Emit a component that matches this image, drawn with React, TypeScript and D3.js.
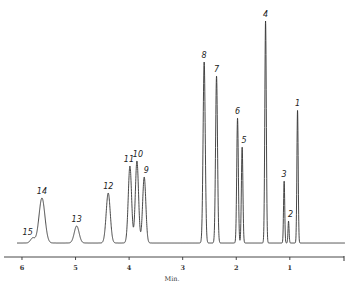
import React from "react";
import * as d3 from "d3";

const peakLabels = ["1", "2", "3", "4", "5", "6", "7", "8", "9", "10", "11", "12", "13", "14", "15"];
const peakTimes = [0.856, 1.024, 1.106, 1.453, 1.89, 1.976, 2.368, 2.599, 3.718, 3.854, 3.985, 4.39, 4.979, 5.627, 5.8];
const peakHeights = [133, 22, 62, 222, 96, 125, 167, 181, 66, 82, 77, 50, 17, 45, 5];
const peakSigmas = [0.012, 0.01, 0.011, 0.014, 0.014, 0.015, 0.018, 0.02, 0.03, 0.03, 0.031, 0.038, 0.045, 0.055, 0.04];
const tickValues = [6, 5, 4, 3, 2, 1];
const tickLabels = ["6", "5", "4", "3", "2", "1"];
const axisTitle = "Min.";

const W = 355, H = 285;

export default function App() {
  const x = d3.scaleLinear().domain([6.093, -0.03]).range([17, 345]);
  const y = d3.scaleLinear().domain([0, 230]).range([243, 13]);

  const samples = d3.range(6.093, -0.03, -0.002);
  const signal = (t: number) =>
    d3.sum(peakTimes, (pt, i) => peakHeights[i] * Math.exp(-((t - pt) ** 2) / (2 * peakSigmas[i] ** 2)));
  const pts: [number, number][] = samples.map((t) => [t, signal(t)]);
  const line = d3.line<[number, number]>().x((d) => x(d[0])).y((d) => y(d[1]));

  const labelOffsets: Record<string, [number, number]> = {
    "2": [2, -4], "5": [2, -4], "15": [-5, 0], "11": [-1, -4], "10": [1, -4], "9": [2, -4],
  };

  const axisY = 257;
  const axisX0 = 4, axisX1 = 344;
  return (
    <svg width={W} height={H} style={{ position: "absolute", left: 0, top: 0, background: "#fff" }}>
      <path d={line(pts) || ""} fill="none" stroke="#333" strokeWidth={0.9} />
      {peakLabels.map((lab, i) => {
        const off = labelOffsets[lab] || [0, -4];
        const px = x(peakTimes[i]) + off[0];
        const py = lab === "15" ? y(peakHeights[i]) - 3 : y(signal(peakTimes[i])) + off[1];
        return (
          <text key={lab} x={px} y={py} textAnchor="middle" fontFamily="DejaVu Sans, sans-serif"
            fontStyle="italic" fontSize={8} fill="#222">{lab}</text>
        );
      })}
      <line x1={axisX0} x2={axisX1} y1={axisY} y2={axisY} stroke="#333" strokeWidth={0.9} />
      <line x1={axisX1} x2={axisX1} y1={axisY - 1} y2={axisY + 4} stroke="#333" strokeWidth={1} />
      {tickValues.map((v, i) => (
        <g key={v}>
          <line x1={x(v)} x2={x(v)} y1={axisY} y2={axisY + 3} stroke="#333" strokeWidth={0.9} />
          <text x={x(v)} y={axisY + 13} textAnchor="middle" fontFamily="DejaVu Serif, serif"
            fontWeight="bold" fontSize={6.5} fill="#333">{tickLabels[i]}</text>
        </g>
      ))}
      <text x={172} y={281} textAnchor="middle" fontFamily="DejaVu Serif, serif" fontSize={6.5} fill="#333">{axisTitle}</text>
    </svg>
  );
}
